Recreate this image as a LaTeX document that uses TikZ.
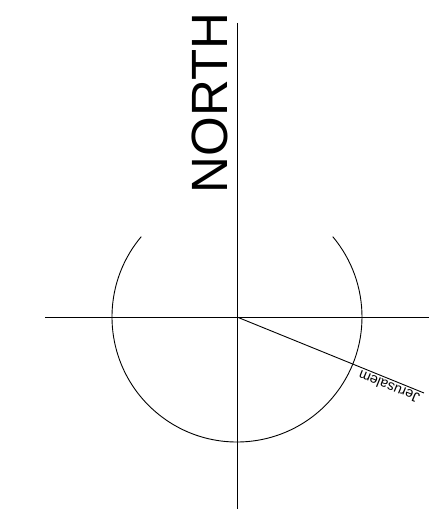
\documentclass[tikz,border=0pt]{standalone}
\usepackage{fontspec}
\setmainfont{Liberation Sans}
\begin{document}
\begin{tikzpicture}[x=1pt,y=-1pt,
  ln/.style={line width=0.9pt,black},
  lbl/.style={inner sep=0pt,font=\fontsize{14}{16}\selectfont}]
\useasboundingbox (0,0) rectangle (447,519);
\coordinate (c) at (237,317);
\coordinate (top) at (237,23);
\coordinate (bot) at (237,509);
\coordinate (lft) at (45,317);
\coordinate (rgt) at (429,317);
\coordinate (jend) at (424,393);
\draw[ln] (top) -- (bot);
\draw[ln] (lft) -- (rgt);
\draw[ln] (c) ++({125*cos(140)},{-125*sin(140)}) arc[start angle=140,end angle=400,x radius=125,y radius=-125];
\draw[ln] (c) -- (jend);
\node[lbl,anchor=center,rotate=158] (jer) at (389,387) {Jerusalem};
\node[inner sep=0pt,anchor=base,rotate=90,font=\fontsize{51}{55}\selectfont] (north) at (227,103) {NORTH};
\end{tikzpicture}
\end{document}
